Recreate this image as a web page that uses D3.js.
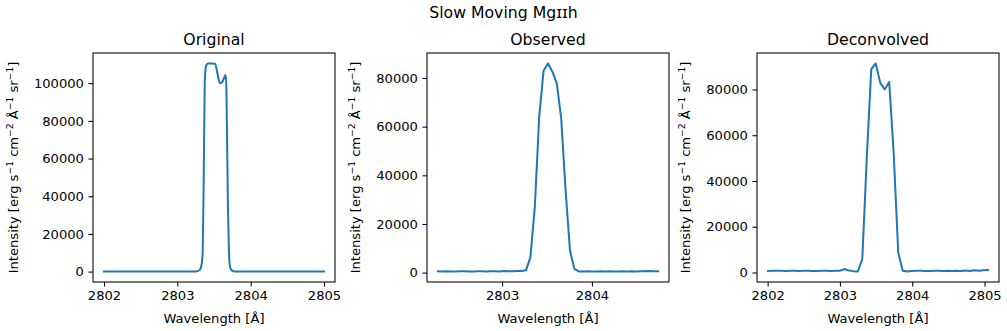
<!DOCTYPE html>
<html>
<head>
<meta charset="utf-8">
<script src="https://cdn.jsdelivr.net/npm/d3@7"></script>
<style>
  body { margin: 0; background: #fff; }
  text { font-family: "DejaVu Sans", sans-serif; fill: #000; }
</style>
</head>
<body>
<svg id="chart" width="1007" height="331"></svg>
<script>
// ---- data ----
const panelTitles = ['Original', 'Observed', 'Deconvolved'];

// original profile (key points of a smooth curve)
const origWave = [2802.0, 2802.5, 2803.0, 2803.25, 2803.3, 2803.33, 2803.346, 2803.36, 2803.374,
  2803.385, 2803.396, 2803.42, 2803.47, 2803.515, 2803.545, 2803.57, 2803.59, 2803.615, 2803.64,
  2803.657, 2803.667, 2803.677, 2803.69, 2803.703, 2803.713, 2803.73, 2803.76, 2803.8, 2804.0,
  2804.5, 2805.0];
const origVal = [0, 0, 0, 100, 700, 3500, 11000, 50000, 100800,
  107500, 109700, 110400, 110500, 110300, 105500, 101000, 100000, 100800, 103000,
  104400, 100000, 75000, 35000, 12000, 4000, 1200, 300, 0, 0,
  0, 0];

// observed spectrum, sampled grid
const obsStart = 2802.286, obsStep = 0.049;
const obsVal = [520, 480, 560, 500, 470, 530, 600, 450, 510, 560, 520, 470, 600, 540, 500, 650,
  620, 580, 680, 720, 950, 6300, 26900, 64000, 83000, 86000, 82600, 77800, 63400, 33800, 9000,
  1500, 500, 480, 550, 500, 430, 520, 470, 560, 500, 450, 520, 480, 600, 450, 580, 520, 650,
  560, 600];

// deconvolved spectrum, sampled grid
const decStart = 2802.005, decStep = 0.0621;
const decVal = [700, 750, 720, 780, 700, 760, 720, 680, 750, 820, 700, 650, 720, 760, 700, 800,
  750, 1500, 900, 600, 450, 5900, 50000, 88900, 91400, 82900, 80000, 83300, 52000, 8800, 750,
  400, 700, 750, 800, 700, 650, 720, 760, 700, 750, 680, 720, 650, 900, 700, 1000, 750, 1000,
  1100];

const xTicks = [[2802, 2803, 2804, 2805], [2803, 2804], [2802, 2803, 2804, 2805]];
const yTicks = [[0, 20000, 40000, 60000, 80000, 100000], [0, 20000, 40000, 60000, 80000],
  [0, 20000, 40000, 60000, 80000]];

const series = [
  origWave.map((w, i) => ({x: w, y: origVal[i]})),
  obsVal.map((v, i) => ({x: obsStart + i * obsStep, y: v})),
  decVal.map((v, i) => ({x: decStart + i * decStep, y: v}))
];

// ---- layout ----
const svg = d3.select('#chart');
const lefts = [93, 427, 757];
const axW = 242, axTop = 53, axBottom = 282;
const fs = 13.1;

svg.append('text')
  .attr('x', 503.5).attr('y', 18)
  .attr('text-anchor', 'middle')
  .style('font-size', '15.7px')
  .text('Slow Moving Mgɪɪh');

function padded(ext) {
  const r = ext[1] - ext[0];
  return [ext[0] - 0.05 * r, ext[1] + 0.05 * r];
}

const parts = [['Intensity [erg s', 0], ['\u22121', 1], [' cm', 0], ['\u22122', 1],
  [' Å', 0], ['\u22121', 1], [' sr', 0], ['\u22121', 1], [']', 0]];

series.forEach(function(data, k) {
  const left = lefts[k];
  const x = d3.scaleLinear().domain(padded(d3.extent(data, d => d.x))).range([left, left + axW]);
  const y = d3.scaleLinear().domain(padded(d3.extent(data, d => d.y))).range([axBottom, axTop]);
  const g = svg.append('g');

  const line = d3.line().x(d => x(d.x)).y(d => y(d.y));
  if (k === 0) line.curve(d3.curveMonotoneX);

  g.append('path')
    .datum(data)
    .attr('d', line)
    .attr('fill', 'none')
    .attr('stroke', '#1f77b4')
    .attr('stroke-width', 2)
    .attr('stroke-linejoin', 'round')
    .attr('stroke-linecap', 'square');

  const xa = g.append('g').attr('transform', `translate(0,${axBottom})`)
    .call(d3.axisBottom(x).tickValues(xTicks[k]).tickFormat(d3.format('d')).tickSizeOuter(0).tickSize(4.6).tickPadding(4.5));
  const ya = g.append('g').attr('transform', `translate(${left},0)`)
    .call(d3.axisLeft(y).tickValues(yTicks[k]).tickFormat(d3.format('d')).tickSizeOuter(0).tickSize(4.6).tickPadding(4.5));
  [xa, ya].forEach(a => {
    a.select('.domain').remove();
    a.selectAll('line').attr('stroke', '#000').attr('stroke-width', 1.05);
    a.selectAll('text').style('font-size', fs + 'px').attr('fill', '#000')
      .style('font-family', '"DejaVu Sans", sans-serif');
  });

  g.append('rect')
    .attr('x', left).attr('y', axTop).attr('width', axW).attr('height', axBottom - axTop)
    .attr('fill', 'none').attr('stroke', '#000').attr('stroke-width', 1.05);

  g.append('text')
    .attr('x', left + axW / 2).attr('y', axTop - 8)
    .attr('text-anchor', 'middle')
    .style('font-size', '15.7px')
    .text(panelTitles[k]);

  g.append('text')
    .attr('x', left + axW / 2).attr('y', 323)
    .attr('text-anchor', 'middle')
    .style('font-size', fs + 'px')
    .text('Wavelength [Å]');

  // y label with superscripts
  const ylx = [18, 360, 690][k];
  const yl = g.append('text')
    .attr('transform', `translate(${ylx},${(axTop + axBottom) / 2}) rotate(-90)`)
    .attr('text-anchor', 'middle')
    .style('font-size', fs + 'px');
  parts.forEach((p, i) => {
    const prevSup = i > 0 && parts[i - 1][1] === 1;
    yl.append('tspan')
      .text(p[0])
      .attr('dy', p[1] ? -5 : (prevSup ? 5 : 0))
      .style('font-size', p[1] ? '9.2px' : null);
  });
});
</script>
</body>
</html>
